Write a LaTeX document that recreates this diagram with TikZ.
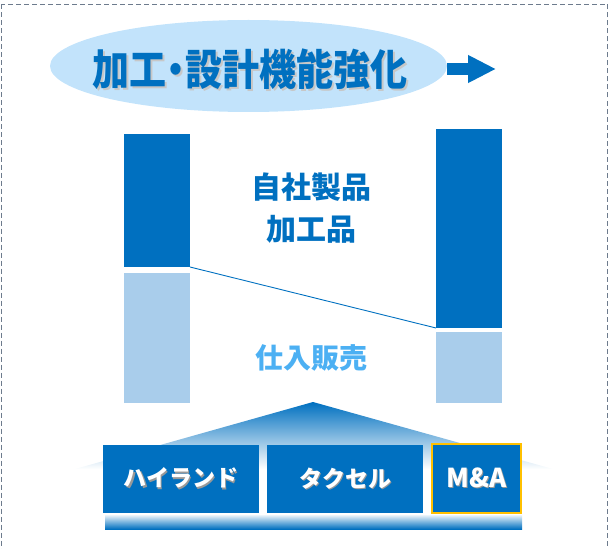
\documentclass[tikz,border=0pt]{standalone}
\usepackage{fontspec}
\setmainfont{Noto Sans CJK JP}
\usetikzlibrary{shapes.geometric,arrows.meta}
\definecolor{mainblue}{HTML}{0070C0}
\definecolor{lightbar}{HTML}{A9CDEB}
\definecolor{ellfill}{HTML}{C2E3FB}
\definecolor{buyblue}{HTML}{4CB0F3}
\definecolor{gold}{HTML}{FFC000}
\definecolor{framegray}{HTML}{6D7B8D}
% text with a soft drop shadow
\newcommand{\softshadow}[2][black!30]{\makebox[0pt][l]{\hspace{1.5pt}\raisebox{-1.5pt}{\textcolor{#1}{#2}}}#2}
\begin{document}
\begin{tikzpicture}[x=1pt,y=-1pt,%
% common options for the bars:
bar/.style = {rectangle, inner sep=0, outer sep=0, anchor=north west,
            minimum width=66pt},
% common options for the company blocks:
company/.style = {rectangle, fill=mainblue, text=white, inner sep=0, outer sep=0,
            anchor=north west, minimum width=156pt, minimum height=68pt,
            font=\bfseries\fontsize{23pt}{25pt}\selectfont},
% common options for the texts beside the bars:
label/.style = {align=center, inner sep=0, font=\bfseries\fontsize{30pt}{42pt}\selectfont}]
\useasboundingbox (0,0) rectangle (609,548);
\draw[framegray, line width=1.2pt, dash pattern=on 5pt off 3pt] (1.5,4.5) rectangle (607.5,552);
% heading
\node[ellipse, fill=ellfill, inner sep=0, outer sep=0, minimum width=397pt, minimum height=92pt] (focus) at (248.5,66) {};
\node[text=mainblue, inner sep=0, font=\bfseries\fontsize{37pt}{40pt}\selectfont] (title) at (250,70)
      {\scalebox{1}[1.15]{\softshadow[black!22]{加工\kern-9pt・\kern-9pt 設計機能強化}}};
\coordinate (tip) at (496,69);
\draw[mainblue, line width=12pt, -{Triangle[length=28pt,width=26pt]}] (focus.east |- tip) -- (tip);
% bars
\node[bar, fill=mainblue, minimum height=133pt] (ownL) at (124,134) {};
\node[bar, fill=lightbar, minimum height=130pt] (buyL) at (124,273) {};
\node[bar, fill=mainblue, minimum height=199pt] (ownR) at (436,129) {};
\node[bar, fill=lightbar, minimum height=71pt] (buyR) at (436,332) {};
\draw[mainblue, line width=0.9pt] (ownL.south east) -- (ownR.south west);
\node[label, text=mainblue] (own) at (311,208) {自社製品\\加工品};
\node[label, text=buyblue, font=\bfseries\fontsize{28pt}{30pt}\selectfont] (buy) at (311,358) {仕入販売};
% roof and base
\shade[top color=mainblue, bottom color=white] (313,402) -- (553,469) -- (75,469) -- cycle;
\node[company] (hiland) at (103,445) {\softshadow[black!40]{ハイランド}};
\node[company] (taksel) at (267,445) {\softshadow[black!40]{タクセル}};
\node[company, draw=gold, line width=2pt, minimum width=89pt, minimum height=69pt,
      font=\bfseries\fontsize{26pt}{28pt}\selectfont] (ma) at (432,444) {\softshadow[black!40]{M\&A}};
\shade[top color=mainblue!8, bottom color=mainblue] (105,515) rectangle (522,529);
\end{tikzpicture}
\end{document}
